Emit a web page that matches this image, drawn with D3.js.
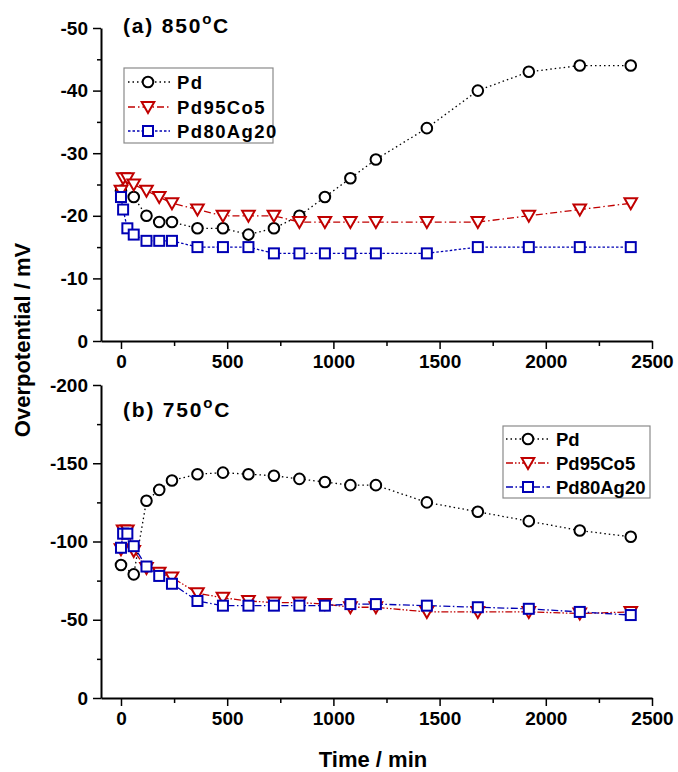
<!DOCTYPE html>
<html>
<head>
<meta charset="utf-8">
<script src="https://cdn.jsdelivr.net/npm/d3@7"></script>
<style>
  body { margin: 0; background: #fff; }
  text { font-family: "Liberation Sans", Arial, sans-serif; font-weight: bold; }
</style>
</head>
<body>
<div id="chart"></div>
<script>
// time points (min)
const pdTimes = [0, 60, 120, 180, 240, 360, 480, 600, 720, 840, 960, 1080, 1200, 1440, 1680, 1920, 2160, 2400]
const alloyTimes = [0, 10, 30, 60, 120, 180, 240, 360, 480, 600, 720, 840, 960, 1080, 1200, 1440, 1680, 1920, 2160, 2400]

// (a) 850 C, overpotential in mV
const pdA = [-24, -23, -20, -19, -19, -18, -18, -17, -18, -20, -23, -26, -29, -34, -40, -43, -44, -44]
const coA = [-24, -26, -26, -25, -24, -23, -22, -21, -20, -20, -20, -19, -19, -19, -19, -19, -19, -20, -21, -22]
const agA = [-23, -21, -18, -17, -16, -16, -16, -15, -15, -15, -14, -14, -14, -14, -14, -14, -15, -15, -15, -15]

// (b) 750 C
const pdB = [-85, -79, -126, -133, -139, -143, -144, -143, -142, -140, -138, -136, -136, -125, -119, -113, -107, -103]
const coB = [-95, -107, -107, -94, -83, -80, -77, -67, -64, -62, -61, -61, -60, -58, -58, -55, -55, -55, -54, -55]
const agB = [-96, -105, -105, -97, -84, -78, -73, -62, -59, -59, -59, -59, -59, -60, -60, -59, -58, -57, -55, -53]

const seriesNames = ['Pd', 'Pd95Co5', 'Pd80Ag20']
const xTicks = [0, 500, 1000, 1500, 2000, 2500]
const xMinor = [250, 750, 1250, 1750, 2250]
const yTicksA = [0, -10, -20, -30, -40, -50]
const yMinorA = [-5, -15, -25, -35, -45]
const yTicksB = [0, -50, -100, -150, -200]
const yMinorB = [-25, -75, -125, -175]

const W = 678, H = 772
const BLACK = '#000', RED = '#c00000', BLUE = '#0000b4'

const svg = d3.select('#chart').append('svg')
    .attr('width', W)
    .attr('height', H)

const x = d3.scaleLinear().domain([-94.1, 2500]).range([101, 652])

const panels = [
    { title: '(a) 850', titleY: 33, yDomain: [0, -50], yRange: [341, 28], ticks: yTicksA, minor: yMinorA,
      pd: pdA, co: coA, ag: agA, coDash: '7,3,1.5,3', agDash: '2.5,2',
      legend: { x: 124, y: 68, w: 149, h: 75, rows: [82, 107, 131], mx: 148, l0: 128, l1: 170, tx: 177, ls: 1.4 } },
    { title: '(b) 750', titleY: 417, yDomain: [0, -200], yRange: [698, 385], ticks: yTicksB, minor: yMinorB,
      pd: pdB, co: coB, ag: agB, coDash: '7,2,1.5,2,1.5,2', agDash: '7,2.5,1.5,2.5',
      legend: { x: 503, y: 426, w: 147, h: 72, rows: [439, 463, 487], mx: 528, l0: 506, l1: 550, tx: 556, ls: 0 } }
]

function circle(g, cx, cy) {
    g.append('circle').attr('cx', cx).attr('cy', cy).attr('r', 5.3)
        .attr('fill', '#fff').attr('stroke', BLACK).attr('stroke-width', 2)
}
function triangle(g, cx, cy) {
    g.append('path').attr('d', `M${cx - 6.3},${cy - 5}L${cx + 6.3},${cy - 5}L${cx},${cy + 6}Z`)
        .attr('fill', '#fff').attr('stroke', RED).attr('stroke-width', 2)
}
function square(g, cx, cy) {
    g.append('rect').attr('x', cx - 5).attr('y', cy - 5).attr('width', 10).attr('height', 10)
        .attr('fill', '#fff').attr('stroke', BLUE).attr('stroke-width', 2)
}

function styleLabels(g) {
    g.selectAll('text').attr('font-size', 19).attr('fill', BLACK)
        .attr('font-family', '"Liberation Sans", Arial, sans-serif').attr('font-weight', 'bold')
}

panels.forEach(p => {
    const y = d3.scaleLinear().domain(p.yDomain).range(p.yRange)
    const bottom = p.yRange[0]

    // axes: minor ticks first, then major ticks with labels
    svg.append('g')
        .attr('transform', `translate(0,${bottom})`)
        .call(d3.axisBottom(x).tickValues(xMinor).tickSize(5).tickSizeOuter(0).tickFormat(''))
        .call(g => g.select('.domain').remove())
        .call(g => g.selectAll('line').attr('stroke-width', 1.5))
    svg.append('g')
        .attr('transform', `translate(0,${bottom})`)
        .call(d3.axisBottom(x).tickValues(xTicks).tickSize(8).tickSizeOuter(0).tickPadding(6).tickFormat(d => String(d)))
        .call(g => g.select('.domain').attr('stroke-width', 2))
        .call(g => g.selectAll('line').attr('stroke-width', 1.5))
        .call(styleLabels)

    svg.append('g')
        .attr('transform', 'translate(101,0)')
        .call(d3.axisLeft(y).tickValues(p.minor).tickSize(4).tickSizeOuter(0).tickFormat(''))
        .call(g => g.select('.domain').remove())
        .call(g => g.selectAll('line').attr('stroke-width', 1.5))
    svg.append('g')
        .attr('transform', 'translate(101,0)')
        .call(d3.axisLeft(y).tickValues(p.ticks).tickSize(8).tickSizeOuter(0).tickPadding(5).tickFormat(d => String(d)))
        .call(g => g.select('.domain').attr('stroke-width', 2))
        .call(g => g.selectAll('line').attr('stroke-width', 1.5))
        .call(styleLabels)

    // panel title with superscript o
    const t = svg.append('text').attr('x', 123).attr('y', p.titleY).attr('font-size', 21)
        .attr('letter-spacing', 1.8).attr('fill', BLACK)
    t.append('tspan').text(p.title)
    t.append('tspan').attr('dy', -9).attr('font-size', 15).text('o')
    t.append('tspan').attr('dy', 9).text('C')

    // series lines
    const line = d3.line().x(d => x(d[0])).y(d => y(d[1]))
    const pdData = pdTimes.map((tm, i) => [tm, p.pd[i]])
    const coData = alloyTimes.map((tm, i) => [tm, p.co[i]])
    const agData = alloyTimes.map((tm, i) => [tm, p.ag[i]])

    svg.append('path').datum(pdData).attr('d', line).attr('fill', 'none')
        .attr('stroke', BLACK).attr('stroke-width', 1.3).attr('stroke-dasharray', '1.5,3')
    svg.append('path').datum(coData).attr('d', line).attr('fill', 'none')
        .attr('stroke', RED).attr('stroke-width', 1.3).attr('stroke-dasharray', p.coDash)
    svg.append('path').datum(agData).attr('d', line).attr('fill', 'none')
        .attr('stroke', BLUE).attr('stroke-width', 1.3).attr('stroke-dasharray', p.agDash)

    const mk = svg.append('g')
    pdData.forEach(d => circle(mk, x(d[0]), y(d[1])))
    coData.forEach(d => triangle(mk, x(d[0]), y(d[1])))
    agData.forEach(d => square(mk, x(d[0]), y(d[1])))

    // legend
    const L = p.legend
    const lg = svg.append('g')
    lg.append('rect').attr('x', L.x).attr('y', L.y).attr('width', L.w).attr('height', L.h)
        .attr('fill', '#fff').attr('stroke', '#8a8a8a').attr('stroke-width', 1.2)
    const styles = [
        { c: BLACK, dash: '1.5,3', m: circle },
        { c: RED, dash: p.coDash, m: triangle },
        { c: BLUE, dash: p.agDash, m: square }
    ]
    seriesNames.forEach((name, i) => {
        const ry = L.rows[i]
        lg.append('line').attr('x1', L.l0).attr('x2', L.l1).attr('y1', ry).attr('y2', ry)
            .attr('stroke', styles[i].c).attr('stroke-width', 1.3).attr('stroke-dasharray', styles[i].dash)
        styles[i].m(lg, L.mx, ry)
        lg.append('text').attr('x', L.tx).attr('y', ry + 6.5).attr('font-size', 18.5)
            .attr('letter-spacing', L.ls).attr('fill', BLACK).text(name)
    })
})

// axis titles
svg.append('text')
    .attr('transform', 'translate(30,340) rotate(-90)')
    .attr('text-anchor', 'middle')
    .attr('font-size', 22)
    .attr('fill', BLACK)
    .text('Overpotential / mV')

svg.append('text')
    .attr('x', 373)
    .attr('y', 767)
    .attr('text-anchor', 'middle')
    .attr('font-size', 22)
    .attr('fill', BLACK)
    .text('Time / min')
</script>
</body>
</html>
